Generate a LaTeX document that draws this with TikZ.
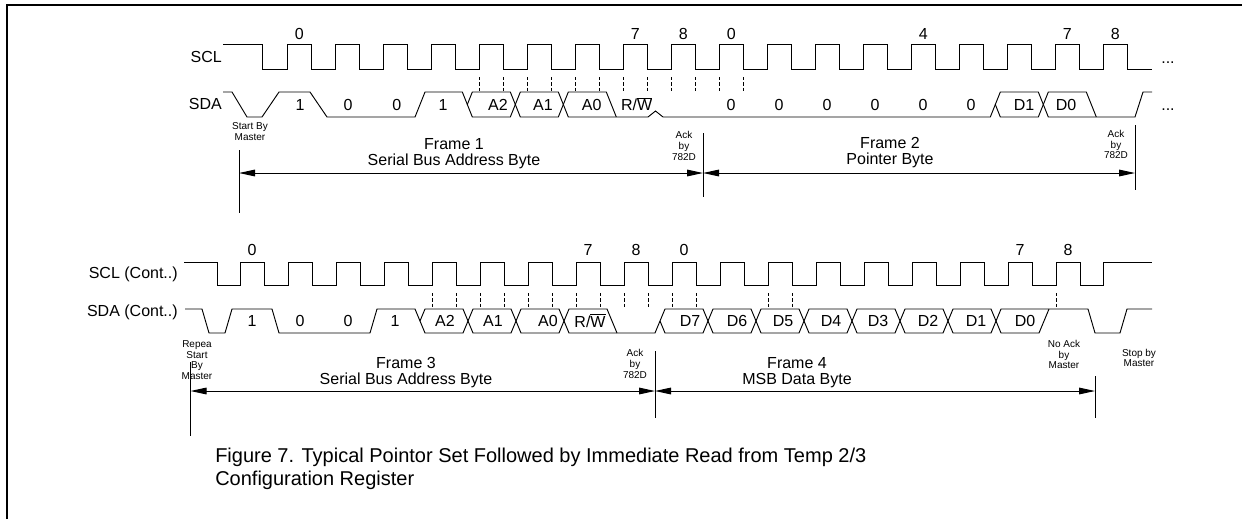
\documentclass[tikz,border=0pt]{standalone}
\usepackage{fontspec}
\setmainfont{Liberation Sans}
\usetikzlibrary{positioning}
\usetikzlibrary{arrows.meta}
\tikzset{
    sigline/.style = {line width=0.7pt,black,line join=miter},
    dashtick/.style = {line width=0.6pt,black,dash pattern=on 2.5pt off 1.5pt},
    markline/.style = {line width=0.75pt,black},
    spanarrow/.style = {line width=0.75pt,black,{Triangle[length=12pt,width=5pt]}-{Triangle[length=12pt,width=5pt]}},
    siglabel/.style = {anchor=east,inner sep=0pt,font=\fontsize{12}{14}\selectfont},
    bitlabel/.style = {inner sep=0pt,font=\fontsize{12}{14}\selectfont},
    framelabel/.style = {align=center,inner sep=0pt,font=\fontsize{12}{12}\selectfont},
    notelabel/.style = {align=center,inner sep=0pt,font=\fontsize{7.5}{8}\selectfont},
    captionlabel/.style = {align=left,inner sep=0pt,anchor=north west,font=\fontsize{15}{17}\selectfont}
}

\begin{document}
\begin{tikzpicture}[x=0.75pt,y=-0.75pt]
  \useasboundingbox (0,0) rectangle (1242,519);
  \draw[line width=1.5pt] (7,519) -- (7,5) -- (1242,5);

  % frames 1 and 2
  \node[siglabel] (scla) at (222,57) {SCL};
  \node[siglabel] (sdaa) at (222,104) {SDA};
  \draw[sigline] (223,44) -- (262,44) -- (262,69)
    \foreach \k in {0,...,17} { -- ({287.3+48*\k},69) -- ({287.3+48*\k},44) -- ({311.3+48*\k},44) -- ({311.3+48*\k},69) }
    -- (1152,69);
  \foreach \k/\t in {0/0,7/7,8/8,9/0,13/4,16/7,17/8}
    \node[bitlabel] (numa\k) at ({299.3+48*\k},34) {\t};
  \foreach \k in {4,...,9} {
    \draw[dashtick] ({287.3+48*\k},77) -- ({287.3+48*\k},92);
    \draw[dashtick] ({311.3+48*\k},77) -- ({311.3+48*\k},92);
  }
  \draw[sigline] (223,92) -- (232,92) -- (247,117) -- (262,117) -- (279,92) -- (310,92) -- (327,117)
    -- (415,117) -- (425,92) -- (462.3,92) -- (467.3,104.5);
  \foreach \a in {467.3,515.3,995.3}
    \draw[sigline] (\a,104.5) -- ({\a+5},92) -- ({\a+43},92) -- ({\a+48},104.5) -- ({\a+43},117) -- ({\a+5},117) -- cycle;
  \draw[sigline] (563.3,104.5) -- (568.3,92) -- (606.3,92) -- (616.3,117);
  \draw[sigline] (563.3,104.5) -- (568.3,117) -- (648,117) -- (655.5,111) -- (663,117) -- (990.3,117) -- (995.3,104.5);
  \draw[sigline] (1043.3,104.5) -- (1048.3,92) -- (1086.3,92) -- (1096.3,117);
  \draw[sigline] (1043.3,104.5) -- (1048.3,117) -- (1135,117) -- (1143,92) -- (1152,92);
  \foreach \x/\t [count=\i] in {300/1,348/0,396.7/0,443/1,498/A2,543/A1,591.7/A0,731/0,779/0,827/0,875/0,923/0,971/0,1024/D1,1066/D0}
    \node[bitlabel] (bita\i) at (\x,104.5) {\t};
  \node[bitlabel] (rwa) at (636.7,104) {R/$\overline{\mbox{W}}$};
  \node[bitlabel,anchor=base] (dotsa) at (1168,63.5) {...};
  \node[bitlabel,anchor=base] (dotsb) at (1168,110) {...};

  \node[notelabel] (starta) at (250,131.5) {Start By\\Master};
  \node[notelabel] (acka) at (684,146) {Ack\\by\\782D};
  \node[notelabel] (ackb) at (1116,144.5) {Ack\\by\\782D};
  \node[framelabel] (frame1) at (454,154) {Frame 1\\Serial Bus Address Byte};
  \node[framelabel] (frame2) at (890,153) {Frame 2\\Pointer Byte};
  \coordinate (f1s) at (239,173);
  \coordinate (f1e) at (703,173);
  \coordinate (f2e) at (1135,173);
  \draw[markline] (f1s) ++(0,-23) -- ++(0,63);
  \draw[markline] (f1e) ++(0,-40) -- ++(0,64);
  \draw[markline] (f2e) ++(0,-48) -- ++(0,65);
  \draw[spanarrow] (f1s) -- (f1e);
  \draw[spanarrow] (f1e) -- (f2e);

  % frames 3 and 4
  \node[siglabel] (sclb) at (178,274) {SCL (Cont..)};
  \node[siglabel] (sdab) at (178,312) {SDA (Cont..)};
  \draw[sigline] (184,262) -- (217,262) -- (217,285)
    \foreach \k in {0,...,17} { -- ({240+48*\k},285) -- ({240+48*\k},262) -- ({264+48*\k},262) -- ({264+48*\k},285) }
    -- (1103.3,285) -- (1103.3,262) -- (1152,262);
  \foreach \k/\t in {0/0,7/7,8/8,9/0,16/7,17/8}
    \node[bitlabel] (numb\k) at ({252+48*\k},250) {\t};
  \foreach \k in {4,...,9,11,...,16} {
    \draw[dashtick] ({240+48*\k},293) -- ({240+48*\k},309);
    \draw[dashtick] ({264+48*\k},293) -- ({264+48*\k},309);
  }
  \draw[dashtick] (1056,293) -- (1056,309);
  \draw[sigline] (185,309) -- (202,309) -- (209,333) -- (225,333) -- (232,309) -- (272,309) -- (279,333)
    -- (370,333) -- (377,309) -- (415,309) -- (420,321);
  \foreach \a in {420,468,516,660,708,756,804,852,900,948}
    \draw[sigline] (\a,321) -- ({\a+5},309) -- ({\a+43},309) -- ({\a+48},321) -- ({\a+43},333) -- ({\a+5},333) -- cycle;
  \draw[sigline] (564,321) -- (569,309) -- (607,309) -- (617,333);
  \draw[sigline] (564,321) -- (569,333) -- (655,333) -- (660,321);
  \draw[sigline] (996,321) -- (1001,333) -- (1039,333) -- (1049,309);
  \draw[sigline] (996,321) -- (1001,309) -- (1088,309) -- (1095,333) -- (1120,333) -- (1127,309) -- (1152,309);
  \foreach \x/\t [count=\i] in {252/1,300/0,348/0,395/1,445/A2,493/A1,548/A0,690/D7,737/D6,783/D5,831/D4,878/D3,928/D2,976/D1,1025/D0}
    \node[bitlabel] (bitb\i) at (\x,321) {\t};
  \node[bitlabel] (rwb) at (590,320.5) {R/$\overline{\mbox{W}}$};

  \node[notelabel] (startb) at (197,360) {Repea\\Start\\By\\Master};
  \node[notelabel] (ackc) at (635,364) {Ack\\by\\782D};
  \node[notelabel] (noack) at (1064,354.5) {No Ack\\by\\Master};
  \node[notelabel] (stopb) at (1139,358) {Stop by\\Master};
  \node[framelabel] (frame3) at (406,373) {Frame 3\\Serial Bus Address Byte};
  \node[framelabel] (frame4) at (797,373) {Frame 4\\MSB Data Byte};
  \coordinate (f3s) at (190.5,391);
  \coordinate (f3e) at (655,391);
  \coordinate (f4e) at (1095,391);
  \draw[markline] (f3s) ++(0,-29) -- ++(0,74);
  \draw[markline] (f3e) ++(0,-40) -- ++(0,67);
  \draw[markline] (f4e) ++(0,-15) -- ++(0,42);
  \draw[spanarrow] (f3s) -- (f3e);
  \draw[spanarrow] (f3e) -- (f4e);

  \node[captionlabel] (caption) at (215,448) {Figure 7. Typical Pointor Set Followed by Immediate Read from Temp 2/3\\Configuration Register};
\end{tikzpicture}
\end{document}
